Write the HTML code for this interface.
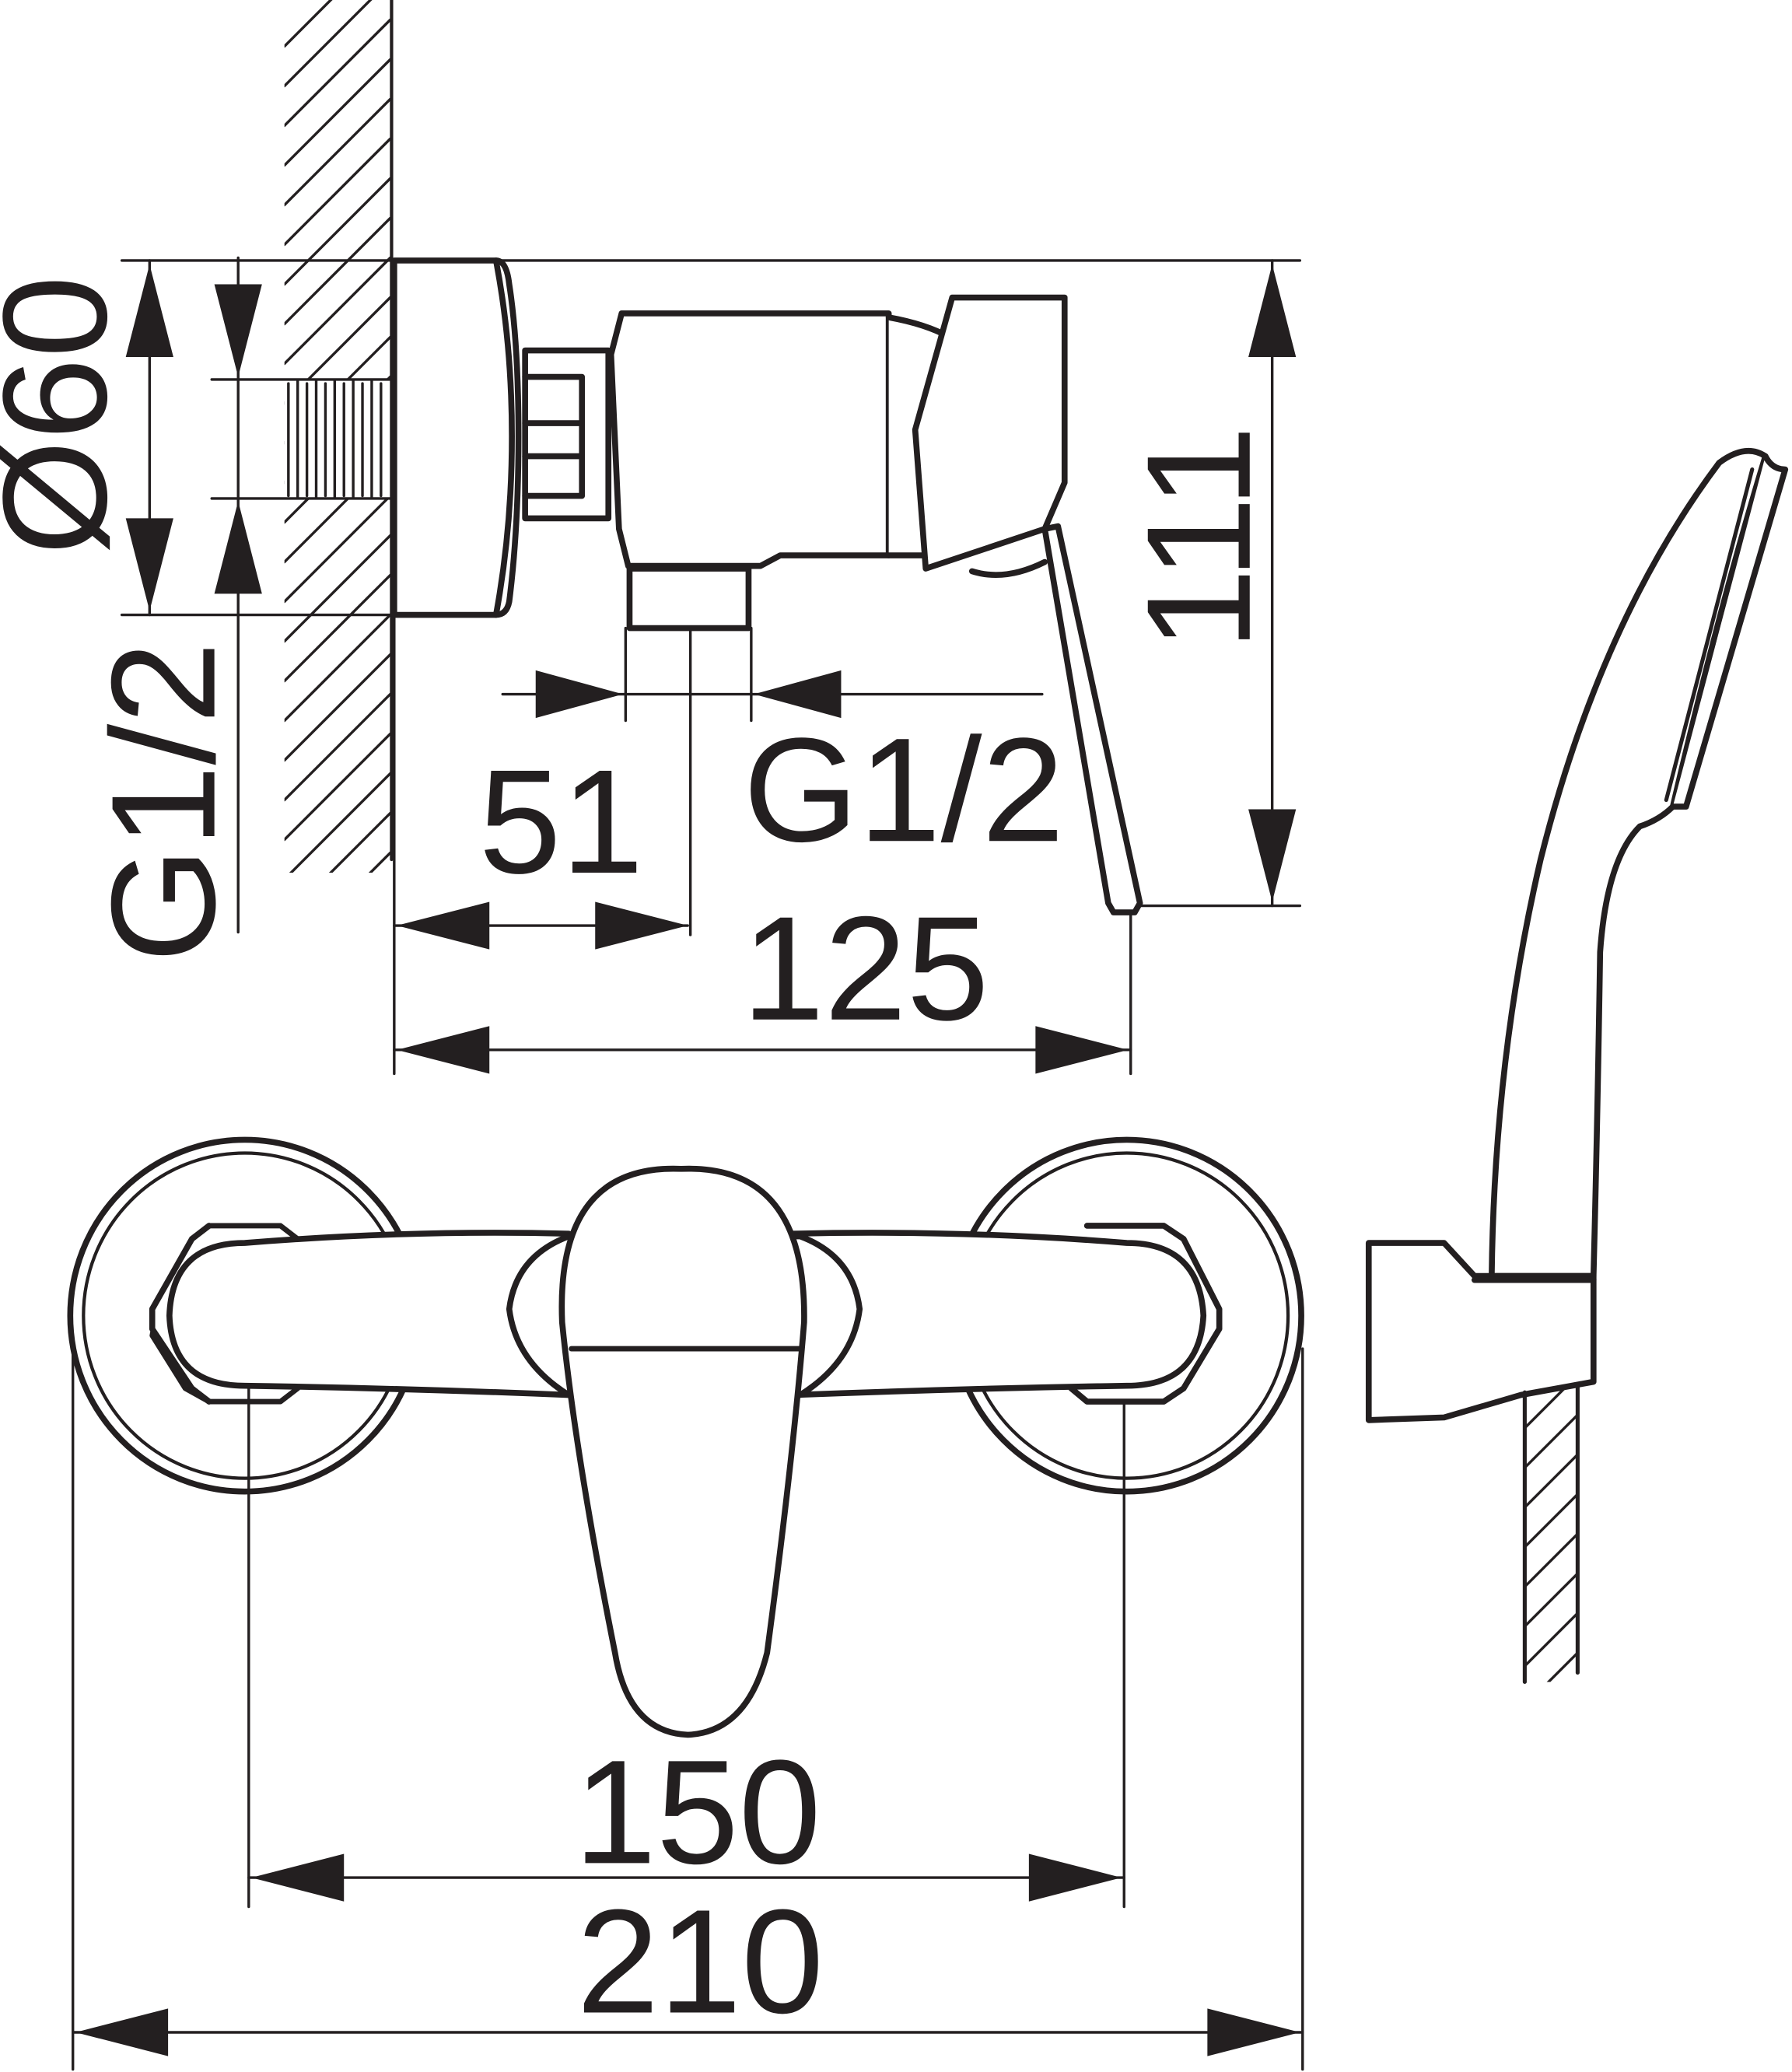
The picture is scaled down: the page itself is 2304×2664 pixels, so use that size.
<!DOCTYPE html>
<html><head><meta charset="utf-8"><style>
html,body{margin:0;padding:0;background:#fff;}
svg{display:block}
text{font-family:"Liberation Sans",sans-serif;fill:#231f20;font-size:112px}
</style></head><body>
<svg width="2304" height="2664" viewBox="0 0 1355 1567" xmlns="http://www.w3.org/2000/svg">
<defs>
<clipPath id="wall"><rect x="215" y="0" width="80" height="660"/></clipPath>
<clipPath id="hose"><rect x="1153" y="1050" width="40" height="222"/></clipPath>
</defs>
<g stroke="#231f20" fill="none" stroke-linecap="round" stroke-linejoin="round">
<!-- wall hatching -->
<g clip-path="url(#wall)" stroke-width="2">
<path d="M215,35 L295,-45 M215,65 L295,-15 M215,95 L295,15 M215,125 L295,45 M215,155 L295,75 M215,185 L295,105 M215,215 L295,135 M215,245 L295,165 M215,275 L295,195 M215,305 L295,225 M215,335 L295,255 M215,365 L295,285 M215,395 L295,315 M215,425 L295,345 M215,455 L295,375 M215,485 L295,405 M215,515 L295,435 M215,545 L295,465 M215,575 L295,495 M215,605 L295,525 M215,635 L295,555 M215,665 L295,585 M215,695 L295,615 M215,725 L295,645"/>
</g>
<rect x="215" y="287" width="80" height="90" fill="#fff" stroke="none"/>
<path d="M296,0 L296,650" stroke-width="2.5"/>
<!-- thread -->
<g stroke-width="2">
<path d="M218,290 L218,375 M225,288 L225,376 M232,290 L232,375 M239,288 L239,376 M246,290 L246,375 M253,288 L253,376 M260,290 L260,375 M267,288 L267,376 M274,290 L274,375 M281,288 L281,376 M288,290 L288,375"/>
</g>
<!-- dimension lines thin -->
<g stroke-width="2">
<path d="M92,197 L983,197 M92,465 L298,465 M858,685 L983,685"/>
<path d="M160,287 L296,287 M160,377 L296,377"/>
<path d="M113,197 L113,465 M180,195 L180,705"/>
<path d="M962,197 L962,685"/>
<path d="M298,465 L298,812 M855,690 L855,812 M522,455 L522,707"/>
<path d="M473,475 L473,545 M568,475 L568,545"/>
<path d="M380,525 L788,525"/>
<path d="M298,700 L520,700 M298,794 L855,794"/>
<path d="M55,1020 L55,1565 M985,1020 L985,1565 M188,995 L188,1442 M850,995 L850,1442"/>
<path d="M188,1420 L850,1420 M55,1537 L985,1537"/>
</g>
<!-- arrowheads -->
<g fill="#231f20" stroke="none">
<path d="M113,200 L95,270 L131,270Z M113,462 L95,392 L131,392Z"/>
<path d="M180,285 L162,215 L198,215Z M180,379 L162,449 L198,449Z"/>
<path d="M962,200 L944,270 L980,270Z M962,682 L944,612 L980,612Z"/>
<path d="M471,525 L405,507 L405,543Z M570,525 L636,507 L636,543Z"/>
<path d="M300,700 L370,682 L370,718Z M520,700 L450,682 L450,718Z"/>
<path d="M300,794 L370,776 L370,812Z M853,794 L783,776 L783,812Z"/>
<path d="M190,1420 L260,1402 L260,1438Z M848,1420 L778,1402 L778,1438Z"/>
<path d="M57,1537 L127,1519 L127,1555Z M983,1537 L913,1519 L913,1555Z"/>
</g>
<!-- side view body -->
<g stroke-width="4.5" fill="#fff">
<path d="M298,197 L375,197 Q383,197 385,215 Q392,260 392,330 Q392,400 385,455 Q383,465 375,465 L298,465 Z"/>
<path d="M375,197 Q387,260 387,330 Q387,400 375,465" fill="none"/>
<path d="M397,265 L460,265 L460,392 L397,392 Z"/>
<path d="M397,285 L440,285 M397,320 L440,320 M397,345 L440,345 M397,375 L440,375 M440,285 L440,375" fill="none"/>
<path d="M470,237 L672,237 L672,420 L590,420 L575,428 L475,428 L468,400 L462,268 L470,237 Z"/>
<path d="M672,240 Q700,245 718,255 L700,420 L672,420" />
<path d="M476,430 L566,430 L566,475 L476,475 Z"/>
<path d="M720,225 L805,225 L805,365 L790,400 L700,430 L692,325 Z"/>
<path d="M735,432 Q760,440 790,425" fill="none"/>
<path d="M790,400 L800,398 L862,683 L858,690 L842,690 L838,683 Z"/>
</g>
<!-- front view -->
<g stroke-width="4.5">
<ellipse cx="185" cy="995" rx="132" ry="133"/>
<ellipse cx="185" cy="995" rx="122" ry="123" stroke-width="2.5"/>
<ellipse cx="852" cy="995" rx="132" ry="133"/>
<ellipse cx="852" cy="995" rx="122" ry="123" stroke-width="2.5"/>
<path d="M158,927 L212,927 L225,937 L120,985 L115,1010 L140,1050 L158,1060 L212,1060 L225,1050" fill="none" stroke-width="4"/>
<path d="M158,927 L145,937 L115,990 L115,1005 L145,1050 L158,1060" fill="#fff"/>
<path d="M822,927 L880,927 L895,937 L922,990 L922,1005 L895,1050 L880,1060 L822,1060 L810,1050" fill="#fff"/>
<path d="M185,940 Q310,930 430,933 L430,1055 Q310,1050 185,1048 Q130,1048 128,995 Q130,940 185,940Z" fill="#fff"/>
<path d="M852,940 Q730,930 600,933 L600,1055 Q730,1050 852,1048 Q907,1048 910,995 Q907,940 852,940Z" fill="#fff"/>
<path d="M430,935 Q390,950 385,990 Q390,1030 430,1055 L605,1055 Q645,1030 650,990 Q645,950 605,935Z" fill="#fff"/>
<path d="M425,1000 Q420,880 515,884 Q610,880 608,1000 Q600,1100 580,1250 Q565,1310 520,1312 Q475,1310 465,1250 Q435,1100 425,1000Z" fill="#fff"/>
<path d="M432,1020 L605,1020" stroke-width="4"/>
</g>
<!-- hand shower -->
<g stroke-width="4.5" fill="#fff">
<path d="M1128,965 Q1130,800 1165,650 Q1210,470 1300,350 Q1320,335 1335,345 Q1300,460 1265,610 Q1255,620 1240,625 Q1215,650 1210,720 Q1208,850 1205,965Z"/>
<path d="M1335,345 Q1340,355 1350,355 L1275,610 L1265,610" />
<path d="M1325,355 L1260,605" fill="none" stroke-width="3"/>
<path d="M1035,940 L1092,940 L1115,965 L1205,965 L1205,1045 L1150,1055 L1092,1072 L1035,1074Z"/>
<path d="M1115,968 L1205,968"/>
</g>
<path d="M1153,1053 L1153,1272 M1193,1048 L1193,1265" stroke-width="3"/>
<g clip-path="url(#hose)" stroke-width="2">
<path d="M1153,1080 L1193,1040 M1153,1110 L1193,1070 M1153,1140 L1193,1100 M1153,1170 L1193,1130 M1153,1200 L1193,1160 M1153,1230 L1193,1190 M1153,1260 L1193,1220 M1153,1290 L1193,1250"/>
</g>
</g>
<!-- labels -->
<text transform="translate(80,420) rotate(-90)" font-size="100">Ø60</text>
<text transform="translate(162,728) rotate(-90)" font-size="112">G1/2</text>
<text transform="translate(945,492) rotate(-90)" font-size="112">111</text>
<text x="362" y="660">51</text>
<text x="562" y="636">G1/2</text>
<text x="561" y="771">125</text>
<text x="434" y="1409">150</text>
<text x="436" y="1522">210</text>
</svg>
</body></html>
